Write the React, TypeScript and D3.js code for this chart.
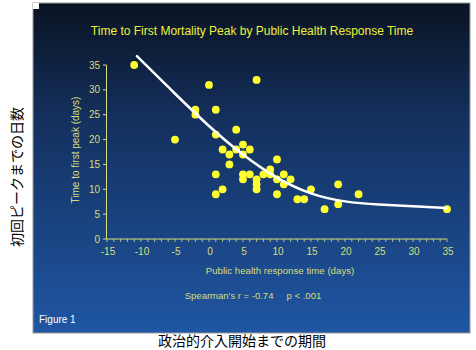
import React from "react";
import * as d3 from "d3";

const responseDays = [-11, -5, -2, -2, 0, 1, 1, 1, 1, 2, 2, 3, 3, 4, 4, 5, 5, 5, 5, 6, 6, 7, 7, 7, 7, 8, 9, 9, 10, 10, 10, 11, 11, 12, 13, 14, 15, 17, 19, 19, 22, 35];
const peakDays = [35, 20, 26, 25, 31, 26, 21, 13, 9, 18, 10, 17, 15, 22, 18, 19, 17, 13, 12, 18, 13, 32, 12, 11, 10, 13, 14, 13, 16, 12, 9, 13, 11, 12, 8, 8, 10, 6, 11, 7, 9, 6];

const fitX = [-10.6, -5, 0, 5, 10, 15, 20, 25, 30, 35];
const fitY = [36.8, 29.2, 22.6, 16.8, 12.1, 8.9, 7.4, 6.9, 6.6, 6.2];

const xTicks = [-15, -10, -5, 0, 5, 10, 15, 20, 25, 30, 35];
const yTicks = [0, 5, 10, 15, 20, 25, 30, 35];

const title = "Time to First Mortality Peak by Public Health Response Time";
const xLabel = "Public health response time (days)";
const yLabel = "Time to first peak (days)";
const statText = "Spearman's r = -0.74     p < .001";
const figLabel = "Figure 1";
const jpY = "初回ピークまでの日数";
const jpX = "政治的介入開始までの期間";

export default function App() {
  const W = 476, H = 350;
  const x = d3.scaleLinear().domain([-15, 35]).range([107, 447]);
  const y = d3.scaleLinear().domain([0, 35]).range([239, 65]);
  const line = d3
    .line<number>()
    .x((_, i) => x(fitX[i]))
    .y((_, i) => y(fitY[i]))
    .curve(d3.curveBasis);
  const minor = d3.range(-15, 35.01, 1);
  const axisColor = "#d6de78";
  const font = "'Liberation Sans', Arial, sans-serif";
  return (
    <svg width={W} height={H} style={{ position: "absolute", left: 0, top: 0, background: "#fff" }}>
      <defs>
        <linearGradient id="bg" x1="0" y1="0" x2="0" y2="1">
          <stop offset="0" stopColor="#0a1322" />
          <stop offset="0.35" stopColor="#14305e" />
          <stop offset="1" stopColor="#1f56a3" />
        </linearGradient>
      </defs>
      <rect x={33} y={3} width={437} height={330} fill="url(#bg)" stroke="#9a9a9a" strokeWidth={1} />
      <rect x={33} y={3} width={6} height={6} fill="#fff" />
      <text x={252} y={35} textAnchor="middle" fill="#eef03a" fontFamily={font} fontSize={12}>{title}</text>
      <line x1={106.5} y1={y(35)} x2={106.5} y2={239} stroke={axisColor} strokeWidth={1} />
      <line x1={106.5} y1={239} x2={447} y2={239} stroke={axisColor} strokeWidth={1} />
      {yTicks.map((t) => (
        <g key={"y" + t}>
          <line x1={103} x2={106.5} y1={y(t)} y2={y(t)} stroke={axisColor} />
          <text x={100} y={y(t) + 3.5} textAnchor="end" fill={axisColor} fontFamily={font} fontSize={10}>{t}</text>
        </g>
      ))}
      {minor.map((t) => (
        <line key={"m" + t} x1={x(t)} x2={x(t)} y1={239} y2={242} stroke={axisColor} strokeWidth={0.8} />
      ))}
      {xTicks.map((t) => (
        <text key={"x" + t} x={x(t) + 1} y={255} textAnchor="middle" fill={axisColor} fontFamily={font} fontSize={10}>{t}</text>
      ))}
      <text x={280} y={274} textAnchor="middle" fill={axisColor} fontFamily={font} fontSize={9.7}>{xLabel}</text>
      <text transform={`translate(79,150) rotate(-90)`} textAnchor="middle" fill={axisColor} fontFamily={font} fontSize={10}>{yLabel}</text>
      <text x={253} y={299} textAnchor="middle" fill={axisColor} fontFamily={font} fontSize={9.5} style={{ whiteSpace: "pre" }}>{statText}</text>
      <text x={39} y={323} fill="#ffffff" fontFamily={font} fontSize={10}>{figLabel}</text>
      {responseDays.map((d, i) => (
        <circle key={"p" + i} cx={x(d)} cy={y(peakDays[i])} r={3.9} fill="#ffff2e" />
      ))}
      <path d={line(fitX) || ""} fill="none" stroke="#ffffff" strokeWidth={2.5} strokeLinecap="round" />
      <text transform={`translate(22,177) rotate(-90)`} textAnchor="middle" fill="#000" fontFamily="'Noto Sans CJK JP', sans-serif" fontSize={14}>{jpY}</text>
      <text x={242} y={346} textAnchor="middle" fill="#000" fontFamily="'Noto Sans CJK JP', sans-serif" fontSize={14}>{jpX}</text>
    </svg>
  );
}
